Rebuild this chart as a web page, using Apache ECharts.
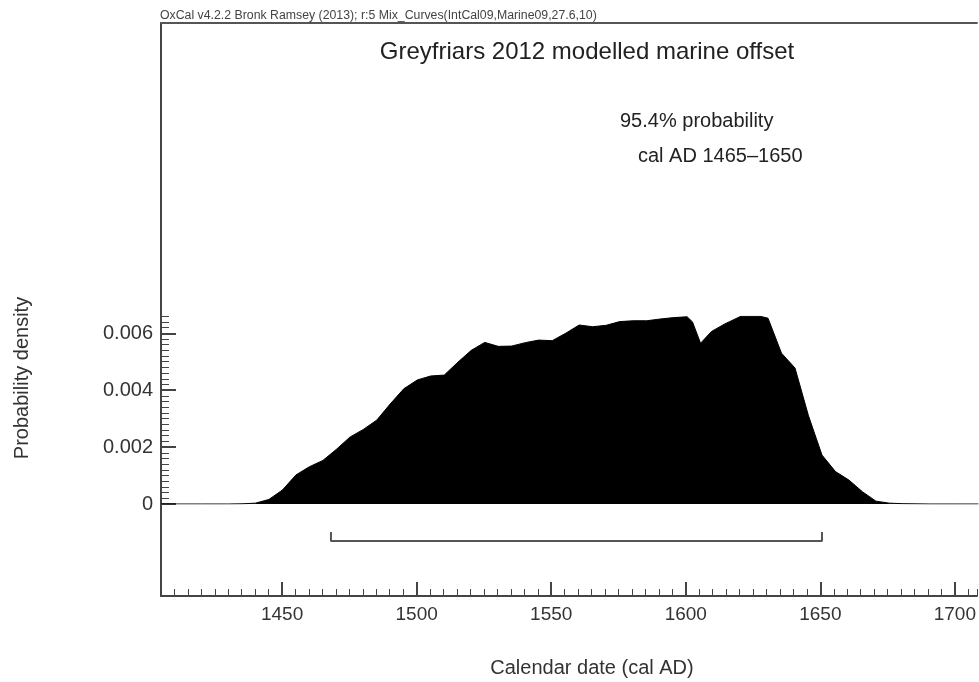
<!DOCTYPE html>
<html><head><meta charset="utf-8">
<script src="https://cdn.jsdelivr.net/npm/echarts@6/dist/echarts.min.js"></script>
<style>html,body{margin:0;padding:0;background:#fff}#c{width:979px;height:682px}</style>
</head><body><div id="c"></div>
<script>
// ---- data ----
const years = [1405,1410,1415,1420,1425,1430,1435,1440,1445,1450,1455,1460,1465,1470,1475,1480,1485,1490,1495,1500,1505,1510,1515,1520,1525,1530,1535,1540,1545,1550,1555,1560,1565,1570,1575,1580,1585,1590,1595,1600,1602,1605,1609,1614,1620,1627,1630,1635,1640,1645,1650,1655,1660,1665,1670,1675,1680,1690,1700,1708];
const density = [0,0,0,0,0,0,0.000005,0.00003,0.00016,0.00049,0.00102,0.00131,0.00153,0.00192,0.00235,0.00262,0.00295,0.00352,0.00405,0.00436,0.0045,0.00453,0.00498,0.0054,0.00568,0.00554,0.00555,0.00567,0.00576,0.00574,0.006,0.00629,0.00623,0.00628,0.00641,0.00644,0.00644,0.0065,0.00655,0.00658,0.0064,0.00565,0.00606,0.00633,0.0066,0.0066,0.00653,0.0053,0.00478,0.0031,0.00172,0.00114,0.00084,0.00043,0.0001,0.00003,0.00001,0,0,0];
const xTickLabels = [1450,1500,1550,1600,1650,1700];
const yTickLabels = [0,0.002,0.004,0.006];
const rangeYears = [1468,1650];
const headerText = 'OxCal v4.2.2 Bronk Ramsey (2013); r:5 Mix_Curves(IntCal09,Marine09,27.6,10)';
const titleText = 'Greyfriars 2012 modelled marine offset';
const probText = '95.4% probability';
const rangeText = 'cal AD 1465\u20131650';
const xName = 'Calendar date (cal AD)';
const yName = 'Probability density';

// ---- chart ----
const X_MIN = 1405, X_MAX = 1708.2;
const FONT = '"Liberation Sans", Arial, sans-serif';
const axisCol = '#444';
const curve = years.map((y, i) => [y, density[i]]);
const bracket = [[rangeYears[0], 1], [rangeYears[0], 0], [rangeYears[1], 0], [rangeYears[1], 1]];

const chart = echarts.init(document.getElementById('c'), null, {renderer: 'canvas'});
chart.setOption({
  animation: false,
  backgroundColor: '#fff',
  grid: [
    {left: 161, right: 0, top: 23, bottom: 86},
    {left: 161, right: 0, top: 316.2, bottom: 178},
    {left: 161, right: 0, top: 532, bottom: 141}
  ],
  xAxis: [
    {gridIndex: 0, type: 'value', min: X_MIN, max: X_MAX, interval: 5, position: 'bottom',
     axisLine: {show: true, lineStyle: {color: axisCol, width: 2}},
     axisTick: {show: true, inside: true, length: 7, lineStyle: {color: axisCol, width: 1}},
     axisLabel: {show: false}, splitLine: {show: false}},
    {gridIndex: 0, type: 'value', min: X_MIN, max: X_MAX, position: 'bottom',
     axisLine: {show: false},
     axisTick: {show: true, inside: true, length: 14, customValues: xTickLabels, lineStyle: {color: axisCol, width: 2}},
     axisLabel: {show: true, customValues: xTickLabels, formatter: v => String(v), fontSize: 19, color: '#333', margin: 9, fontFamily: FONT},
     splitLine: {show: false}},
    {gridIndex: 0, type: 'value', min: X_MIN, max: X_MAX, position: 'top',
     axisLine: {show: true, lineStyle: {color: '#555', width: 2}},
     axisTick: {show: false}, axisLabel: {show: false}, splitLine: {show: false}},
    {gridIndex: 1, type: 'value', min: X_MIN, max: X_MAX, show: false},
    {gridIndex: 2, type: 'value', min: X_MIN, max: X_MAX, show: false}
  ],
  yAxis: [
    {gridIndex: 0, type: 'value', min: 0, max: 1,
     axisLine: {show: true, lineStyle: {color: axisCol, width: 2}},
     axisTick: {show: false}, axisLabel: {show: false}, splitLine: {show: false}},
    {gridIndex: 1, type: 'value', min: 0, max: 0.0066, interval: 0.0002, position: 'left',
     axisLine: {show: false},
     axisTick: {show: true, inside: true, length: 8, lineStyle: {color: axisCol, width: 1}},
     axisLabel: {show: false}, splitLine: {show: false}},
    {gridIndex: 1, type: 'value', min: 0, max: 0.0066, position: 'left',
     axisLine: {show: false},
     axisTick: {show: true, inside: true, length: 15, customValues: yTickLabels, lineStyle: {color: axisCol, width: 2}},
     axisLabel: {show: true, customValues: yTickLabels, formatter: v => (v === 0 ? '0' : v.toFixed(3)),
                 fontSize: 20, color: '#333', margin: 8, fontFamily: FONT},
     splitLine: {show: false}},
    {gridIndex: 2, type: 'value', min: 0, max: 1, show: false}
  ],
  series: [
    {type: 'line', xAxisIndex: 3, yAxisIndex: 1, data: curve, symbol: 'none', smooth: false,
     lineStyle: {color: '#000', width: 1}, areaStyle: {color: '#000', opacity: 1}, silent: true},
    {type: 'line', xAxisIndex: 4, yAxisIndex: 3, data: bracket, symbol: 'none',
     lineStyle: {color: '#555', width: 2}, silent: true, clip: false}
  ],
  graphic: [
    {type: 'text', x: 160, y: 16, style: {text: headerText, font: '12.3px ' + FONT, fill: '#444', verticalAlign: 'middle'}},
    {type: 'text', x: 587, y: 52, style: {text: titleText, font: '24px ' + FONT, fill: '#222', align: 'center', verticalAlign: 'middle'}},
    {type: 'text', x: 620, y: 121, style: {text: probText, font: '20px ' + FONT, fill: '#222', verticalAlign: 'middle'}},
    {type: 'text', x: 638, y: 156, style: {text: rangeText, font: '20px ' + FONT, fill: '#222', verticalAlign: 'middle'}},
    {type: 'text', x: 22, y: 378, rotation: Math.PI / 2, style: {text: yName, font: '20px ' + FONT, fill: '#333', align: 'center', verticalAlign: 'middle'}},
    {type: 'text', x: 592, y: 668, style: {text: xName, font: '20px ' + FONT, fill: '#333', align: 'center', verticalAlign: 'middle'}}
  ]
});
</script>
</body></html>
